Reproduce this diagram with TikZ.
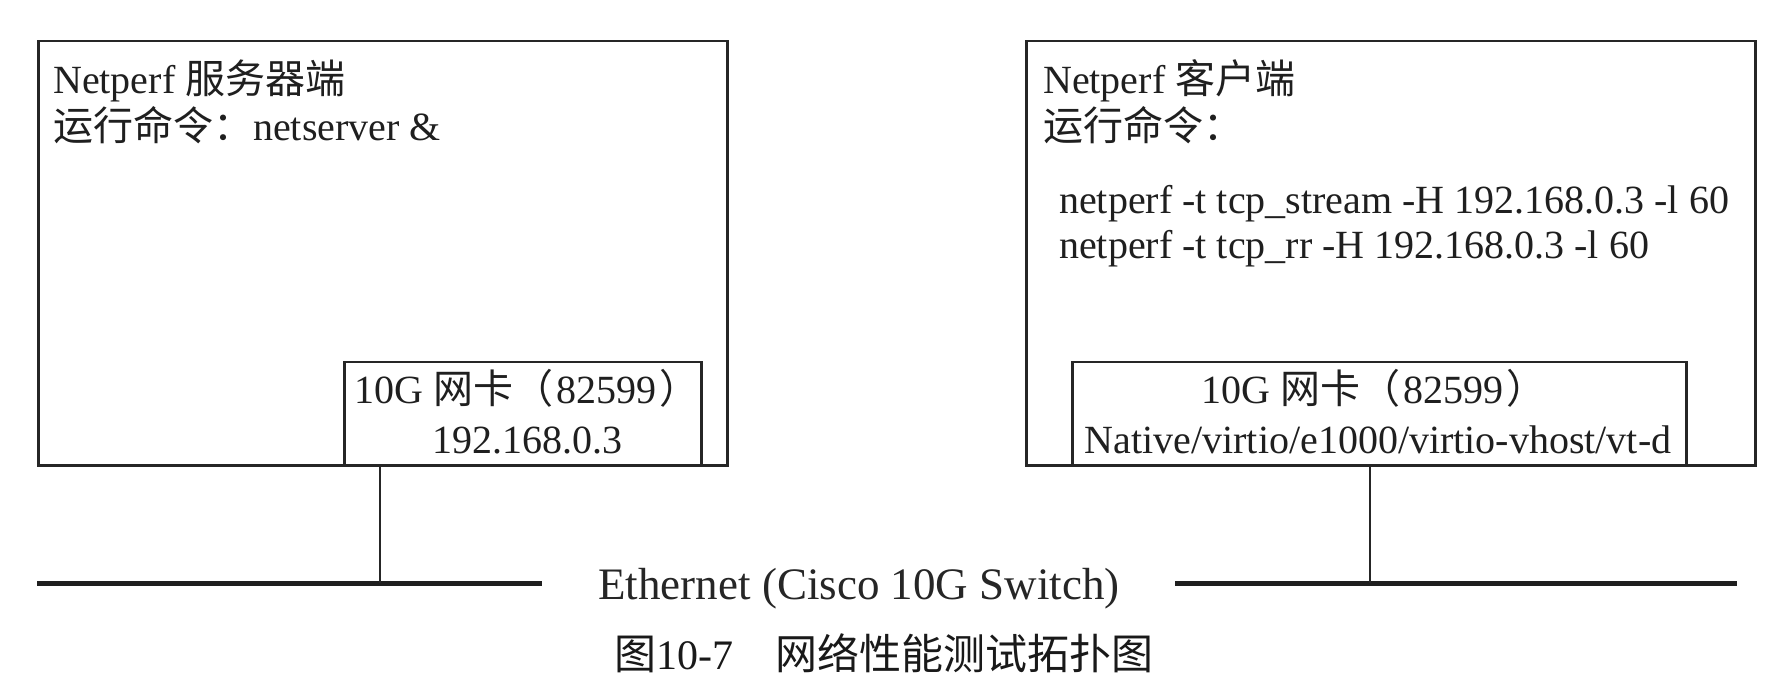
\documentclass[tikz,border=0pt]{standalone}
\usepackage{fontspec}
\setmainfont{Liberation Serif}
\newfontfamily\cjk{Noto Sans CJK SC}
\begin{document}
\begin{tikzpicture}[x=1pt,y=-1pt,
  box/.style={draw=black!85, line width=2.5pt, inner sep=0pt, anchor=north west},
  txt/.style={inner sep=0pt, text=black!88, font=\fontsize{40}{48}\selectfont},
  wire/.style={draw=black!85, line width=1.6pt},
  bus/.style={draw=black!88, line width=5pt},
  ethlabel/.style={inner sep=0pt, text=black!85, font=\fontsize{45}{52}\selectfont},
  caption/.style={inner sep=0pt, text=black!90, font=\fontsize{42}{50}\selectfont}]
\useasboundingbox[fill=white] (0,0) rectangle (1772,692);

% server box
\node[box, minimum width=689pt, minimum height=424pt] (srv) at (37,40) {};
\node[txt, anchor=base west] (srvtitle) at (53,94) {Netperf {\cjk 服务器端}};
\node[txt, anchor=base west] (srvcmd) at (53,141) {{\cjk 运行命令：}netserver \&};
\node[box, minimum width=357pt, minimum height=103pt] (srvnic) at (343,361) {};
\node[txt, anchor=base] (srvnic1) at (527,403) {10G {\cjk 网卡（}\hspace{3pt}82599\hspace{3pt}{\cjk ）}};
\node[txt, anchor=base] (srvnic2) at (527,453) {192.168.0.3};

% client box
\node[box, minimum width=729pt, minimum height=424pt] (cli) at (1025,40) {};
\node[txt, anchor=base west] (clititle) at (1043,94) {Netperf {\cjk 客户端}};
\node[txt, anchor=base west] (clicmd) at (1043,141) {{\cjk 运行命令：}};
\node[txt, anchor=base west] (cmd1) at (1059,214) {netperf -t tcp\_stream -H 192.168.0.3 -l 60};
\node[txt, anchor=base west] (cmd2) at (1059,259) {netperf -t tcp\_rr -H 192.168.0.3 -l 60};
\node[box, minimum width=614pt, minimum height=103pt] (clinic) at (1071,361) {};
\node[txt, anchor=base] (clinic1) at (1374,403) {10G {\cjk 网卡（}\hspace{3pt}82599\hspace{3pt}{\cjk ）}};
\node[txt, anchor=base] (clinic2) at (1378,453) {Native/virtio/e1000/virtio-vhost/vt-d};

% ethernet
\node[ethlabel, anchor=base] (eth) at (859,599) {Ethernet (Cisco 10G Switch)};
\coordinate (busL0) at (37,583);
\coordinate (busL1) at (542,583);
\coordinate (busR0) at (1175,583);
\coordinate (busR1) at (1737,583);
\coordinate (tapL) at (380,583);
\coordinate (tapR) at (1370,583);
\draw[bus] (busL0) -- (busL1);
\draw[bus] (busR0) -- (busR1);
\draw[wire] (srvnic.south -| tapL) -- (tapL);
\draw[wire] (clinic.south -| tapR) -- (tapR);

% caption
\node[caption, anchor=base] (cap) at (884,669) {{\cjk 图}10-7\hspace{1.0em}{\cjk 网络性能测试拓扑图}};
\end{tikzpicture}
\end{document}
